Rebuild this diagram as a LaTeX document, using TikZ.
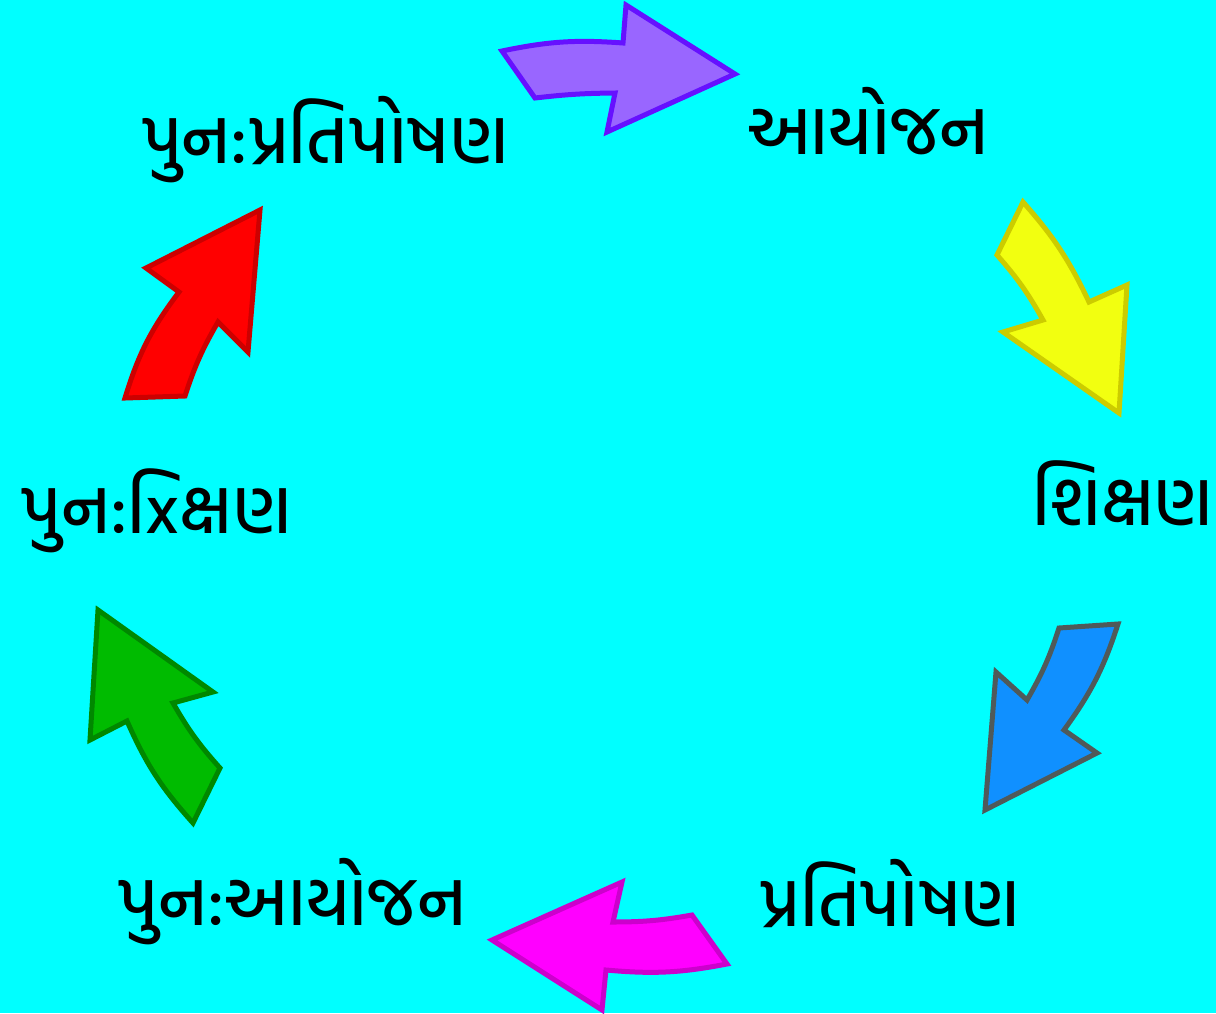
\documentclass[tikz,border=0pt]{standalone}
\usepackage{fontspec}
\newfontfamily\gujfont[Script=Gujarati, UprightFont=* Medium]{Hind Vadodara}
\usetikzlibrary{positioning}
\definecolor{bgcyan}{HTML}{00FFFF}
\definecolor{purplefill}{HTML}{9966FF}
\definecolor{purpleline}{HTML}{6611FF}
\definecolor{yellowfill}{HTML}{F2FF10}
\definecolor{yellowline}{HTML}{CCCC00}
\definecolor{bluefill}{HTML}{1090FF}
\definecolor{blueline}{HTML}{4F5A5A}
\definecolor{magentafill}{HTML}{FF00FF}
\definecolor{magentaline}{HTML}{CC00CC}
\definecolor{greenfill}{HTML}{00BB00}
\definecolor{greenline}{HTML}{008800}
\definecolor{redfill}{HTML}{FF0000}
\definecolor{redline}{HTML}{CC0000}
% the lone vowel sign, set as a bare glyph
\newcommand\lonematra{\XeTeXglyph\XeTeXcharglyph"0ABF\relax}
\tikzset{
  stage/.style={font=\gujfont\fontsize{69}{76}\selectfont, inner sep=0pt, anchor=base},
  cyclearrow/.style={line width=5pt, line join=miter}
}

\begin{document}
\begin{tikzpicture}[x=1pt, y=-1pt]
\fill[bgcyan] (0,0) rectangle (1216,1013);
\useasboundingbox (0,0) rectangle (1216,1013);

% stages of the cycle
\node[stage] (plan) at (868,154) {આયોજન};
\node[stage] (teach) at (1123,525) {શિક્ષણ};
\node[stage] (feedback) at (890,926) {પ્રતિપોષણ};
\node[stage] (replan) at (292,925) {પુન:આયોજન};
\node[stage] (reteach) at (156,533) {પુન:\lonematra xક્ષણ};
\node[stage] (refeedback) at (325,163) {પુન:પ્રતિપોષણ};

% curved arrows between the stages
\draw[cyclearrow, draw=purpleline, fill=purplefill] (502,51) to[bend left=8] (623,43) -- (626,5) -- (735,74) -- (607,132) -- (615,93) to[bend right=3] (535,98) -- cycle;
\draw[cyclearrow, draw=yellowline, fill=yellowfill] (1023,202) to[bend left=8] (1089,302) -- (1127,285) -- (1119,413) -- (1003,332) -- (1043,320) to[bend right=6] (997,255) -- cycle;
\draw[cyclearrow, draw=blueline, fill=bluefill] (1118,624) to[bend left=9] (1064,730) -- (1097,753) -- (985,810) -- (996,672) -- (1027,700) to[bend right=6] (1059,628) -- cycle;
\draw[cyclearrow, draw=magentaline, fill=magentafill] (727,964) to[bend left=8] (606,970) -- (602,1010) -- (492,940) -- (622,882) -- (613,922) to[bend right=5] (692,915) -- cycle;
\draw[cyclearrow, draw=greenline, fill=greenfill] (193,823) -- (220,768) to[bend left=6] (173,703) -- (213,692) -- (98,610) -- (90,740) -- (127,721) to[bend right=9] (193,823) -- cycle;
\draw[cyclearrow, draw=redline, fill=redfill] (125,398) -- (185,396) to[bend left=6] (218,322) -- (248,352) -- (260,210) -- (146,268) -- (179,292) to[bend right=10] (125,398) -- cycle;
\end{tikzpicture}
\end{document}
